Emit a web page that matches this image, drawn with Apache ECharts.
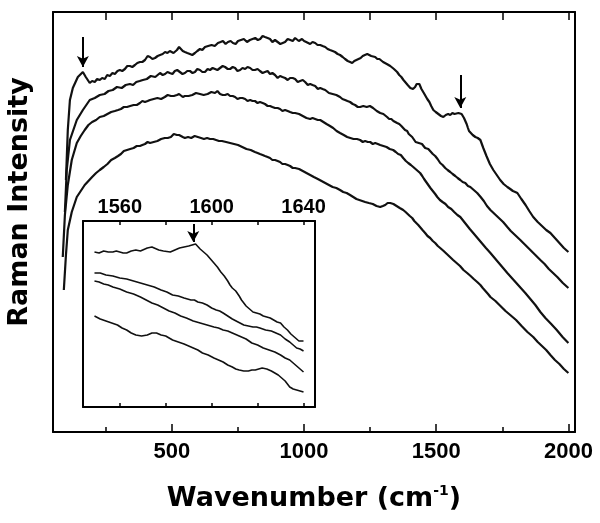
<!DOCTYPE html>
<html><head><meta charset="utf-8">
<script src="https://cdn.jsdelivr.net/npm/echarts@6/dist/echarts.min.js"></script>
<style>html,body{margin:0;padding:0;background:#fff}#c{width:600px;height:523px}</style>
</head><body><div id="c"></div>
<script>
// Main spectra: [wavenumber (cm-1), intensity (a.u.)]
const curve1 = [[99,252],[106,302],[114,332],[125,344],[144,355],[163,360],[174,355],[189,349],[198,351],[208,350],[217,353],[227,352],[236,354],[246,353],[255,357],[265,356],[275,359],[284,358],[294,361],[303,362],[312,361],[322,363],[331,366],[341,366],[350,365],[360,367],[369,369],[379,370],[388,370],[398,372],[408,376],[417,375],[426,373],[436,374],[446,376],[455,377],[465,378],[474,380],[483,379],[492,381],[499,382],[506,379],[512,380],[519,382],[527,385],[534,383],[541,381],[549,380],[558,379],[568,378],[577,377],[587,379],[596,381],[606,383],[615,382],[625,385],[637,386],[650,387],[662,386],[674,389],[684,390],[693,391],[703,388],[712,390],[722,391],[731,389],[741,388],[750,391],[761,392],[772,393],[784,390],[795,392],[805,393],[815,394],[825,392],[834,393],[843,396],[852,395],[862,394],[871,393],[880,390],[890,392],[900,390],[910,388],[919,389],[928,390],[938,393],[948,392],[957,391],[966,394],[973,393],[980,391],[986,392],[992,393],[1000,391],[1008,390],[1015,389],[1023,388],[1032,390],[1042,389],[1051,387],[1061,387],[1070,386],[1080,385],[1089,383],[1098,382],[1108,381],[1117,380],[1127,378],[1136,377],[1146,375],[1155,373],[1165,371],[1174,370],[1182,369],[1190,371],[1198,372],[1205,372],[1214,374],[1222,376],[1230,377],[1239,378],[1246,377],[1254,376],[1261,376],[1269,375],[1277,373],[1285,373],[1292,371],[1299,370],[1306,369],[1313,368],[1320,366],[1326,366],[1333,364],[1340,363],[1346,361],[1352,360],[1360,357],[1368,355],[1376,352],[1383,350],[1392,347],[1402,344],[1407,343],[1412,343],[1416,344],[1420,345],[1426,348],[1432,349],[1436,348],[1439,347],[1444,343],[1448,341],[1453,339],[1458,337],[1466,333],[1474,330],[1481,326],[1489,322],[1498,320],[1508,318],[1518,316],[1527,315],[1536,317],[1545,318],[1553,317],[1561,319],[1569,318],[1576,320],[1584,319],[1591,320],[1596,318],[1600,316],[1605,314],[1610,312],[1615,308],[1620,304],[1624,301],[1629,299],[1638,297],[1648,295],[1657,294],[1667,292],[1678,284],[1690,276],[1703,268],[1716,262],[1729,257],[1742,252],[1755,248],[1769,245],[1780,243],[1790,241],[1799,240],[1807,239],[1822,233],[1838,227],[1852,221],[1867,215],[1884,210],[1900,206],[1916,202],[1932,199],[1949,194],[1966,189],[1983,184],[2000,180]];
const curve2 = [[95,220],[102,262],[114,292],[140,312],[163,322],[189,332],[208,334],[227,337],[245,338],[260,341],[276,342],[292,345],[310,344],[325,347],[341,348],[353,347],[365,350],[378,351],[390,352],[405,353],[420,356],[437,355],[455,359],[465,357],[474,358],[483,360],[492,359],[502,358],[511,361],[520,362],[530,360],[540,358],[549,359],[558,361],[568,361],[578,359],[587,360],[596,363],[606,362],[615,360],[625,360],[635,363],[644,362],[654,364],[663,363],[672,362],[682,364],[692,366],[701,365],[711,363],[720,363],[730,365],[739,364],[748,361],[758,362],[767,364],[777,363],[786,365],[796,364],[805,362],[814,362],[824,363],[833,361],[843,359],[852,360],[862,361],[871,358],[880,359],[890,357],[900,354],[909,356],[918,355],[928,354],[938,352],[947,354],[957,354],[966,353],[976,350],[985,351],[995,352],[1004,350],[1014,347],[1023,348],[1032,347],[1042,346],[1052,343],[1061,344],[1070,343],[1080,342],[1094,339],[1108,338],[1122,337],[1136,335],[1145,333],[1155,332],[1164,331],[1174,330],[1184,328],[1193,327],[1203,325],[1212,325],[1224,326],[1237,325],[1249,326],[1261,324],[1275,321],[1288,319],[1300,318],[1314,315],[1322,313],[1330,313],[1338,311],[1345,311],[1352,309],[1360,308],[1368,306],[1375,305],[1382,302],[1390,301],[1396,298],[1402,298],[1409,295],[1415,294],[1422,290],[1428,290],[1434,289],[1440,288],[1446,288],[1451,287],[1458,284],[1464,285],[1470,283],[1477,282],[1487,278],[1496,276],[1505,273],[1515,269],[1524,267],[1534,264],[1543,262],[1553,260],[1562,258],[1572,256],[1581,254],[1591,252],[1600,250],[1610,249],[1620,246],[1629,245],[1636,243],[1642,242],[1648,240],[1655,239],[1668,235],[1680,231],[1692,226],[1705,222],[1721,218],[1737,214],[1753,210],[1769,205],[1782,201],[1794,198],[1806,195],[1818,192],[1837,187],[1856,182],[1875,177],[1894,172],[1910,168],[1926,163],[1942,159],[1958,155],[1979,149],[2000,144]];
const curve3 = [[87,175],[95,217],[106,247],[121,272],[140,289],[155,296],[170,302],[184,307],[198,310],[213,312],[227,315],[242,316],[256,318],[270,320],[284,321],[296,322],[307,323],[318,325],[330,325],[342,326],[355,327],[367,327],[379,329],[388,331],[398,330],[408,331],[417,332],[431,333],[445,334],[459,333],[473,335],[484,337],[496,336],[507,336],[519,337],[527,338],[534,336],[541,335],[549,336],[563,336],[577,337],[591,339],[606,338],[620,337],[635,338],[649,340],[663,339],[672,341],[682,338],[692,337],[701,337],[711,338],[720,336],[730,336],[739,335],[748,333],[758,334],[767,334],[777,333],[786,331],[796,332],[805,331],[814,331],[824,329],[833,330],[843,329],[852,328],[862,326],[871,326],[880,325],[890,324],[900,324],[909,323],[918,321],[928,322],[938,321],[947,320],[957,319],[966,319],[981,318],[995,316],[1009,314],[1023,313],[1032,314],[1042,313],[1052,312],[1061,312],[1073,310],[1085,308],[1098,306],[1110,304],[1123,301],[1136,299],[1150,297],[1163,295],[1175,294],[1187,293],[1200,293],[1212,292],[1222,290],[1231,291],[1241,290],[1250,290],[1260,288],[1269,289],[1279,288],[1288,287],[1300,286],[1312,285],[1324,283],[1337,282],[1347,280],[1356,278],[1366,277],[1375,274],[1385,271],[1394,269],[1404,267],[1413,265],[1420,263],[1426,262],[1432,261],[1439,259],[1447,256],[1454,253],[1462,250],[1470,247],[1478,244],[1487,241],[1496,238],[1504,235],[1514,232],[1524,230],[1535,228],[1545,225],[1557,223],[1568,220],[1580,217],[1591,215],[1603,211],[1615,207],[1627,203],[1640,199],[1656,194],[1672,189],[1688,184],[1705,179],[1721,174],[1737,169],[1753,164],[1769,159],[1786,154],[1803,149],[1820,144],[1837,139],[1856,133],[1875,127],[1894,120],[1913,114],[1935,108],[1956,102],[1978,95],[2000,89]];
const curve4 = [[91,142],[99,177],[106,202],[121,220],[140,235],[155,241],[170,247],[184,251],[198,255],[213,259],[227,262],[242,265],[256,268],[270,272],[284,274],[296,276],[307,278],[318,281],[330,282],[342,283],[355,284],[367,286],[379,286],[388,287],[398,288],[408,290],[417,289],[431,290],[445,291],[459,293],[473,294],[484,294],[496,295],[507,298],[519,297],[527,297],[534,296],[541,295],[549,294],[561,295],[573,294],[586,296],[598,295],[610,294],[621,293],[633,294],[644,293],[656,293],[667,292],[678,291],[689,291],[705,290],[720,289],[735,288],[750,287],[766,285],[782,283],[798,282],[814,280],[824,279],[833,278],[843,277],[852,276],[862,275],[871,274],[880,272],[890,272],[900,271],[909,270],[918,268],[928,268],[938,267],[947,266],[957,264],[966,264],[981,263],[995,261],[1009,259],[1023,257],[1037,255],[1052,253],[1066,251],[1080,249],[1094,247],[1108,245],[1122,244],[1136,242],[1148,240],[1161,239],[1174,237],[1186,235],[1198,233],[1209,232],[1220,231],[1231,230],[1245,229],[1260,228],[1274,226],[1288,225],[1298,226],[1307,227],[1316,229],[1326,229],[1338,228],[1350,226],[1362,224],[1375,222],[1384,220],[1392,218],[1400,216],[1409,214],[1417,211],[1424,209],[1432,207],[1439,205],[1448,202],[1458,199],[1467,196],[1477,194],[1487,191],[1496,189],[1506,186],[1515,184],[1528,181],[1540,178],[1552,175],[1564,172],[1577,169],[1590,166],[1603,162],[1617,159],[1630,156],[1642,153],[1655,150],[1667,147],[1676,144],[1686,141],[1696,138],[1705,135],[1724,131],[1743,126],[1762,121],[1780,117],[1802,112],[1823,106],[1845,100],[1867,95],[1884,90],[1900,86],[1916,82],[1932,77],[1949,72],[1966,68],[1983,63],[2000,59]];

// Inset spectra (about 1545-1645 cm-1)
const insetA = [[1549,155],[1551,154],[1553,156],[1555,155],[1557,155],[1558.5,156],[1560,155],[1561.5,154],[1563,154],[1565,156],[1567,157],[1569,156],[1572,159],[1574,160],[1577,157],[1579,156],[1582,155],[1584,157],[1586,159],[1588,160],[1590,161],[1593,163],[1595,158],[1598,152],[1599.5,148],[1601,144],[1602.5,140],[1604,135],[1605.5,131],[1607,126],[1608,122],[1609,119],[1610.5,116],[1612,111],[1613,107],[1614,104],[1615,101],[1616,99],[1617,97],[1618,95],[1619.5,94],[1621,93],[1622.5,91],[1624,90],[1625.5,89],[1627,87],[1628.5,85],[1630,84],[1631.5,80],[1633,77],[1634.5,73],[1636,70],[1638,66],[1640,66]];
const insetB = [[1549,134],[1551.5,134],[1554,132],[1557,131],[1560,129],[1563,128],[1566,126],[1569,124],[1572,122],[1575,120],[1578,117],[1580.5,115],[1583,112],[1585.5,111],[1588,109],[1589.5,108],[1591,107],[1592.5,107],[1594,105],[1596,104],[1598,102],[1600,99],[1602,97],[1603.5,96],[1605,94],[1607,91],[1609,88],[1611.5,85],[1614,82],[1616,81],[1618,80],[1619.5,80],[1621,79],[1623.5,77],[1626,76],[1628,74],[1630,72],[1632,68],[1634,65],[1635.5,62],[1637,59],[1638.5,58],[1640,56]];
const insetC = [[1549,126],[1551,125],[1553,123],[1555,122],[1557,120],[1560,118],[1563,115],[1566,113],[1569,110],[1571.5,107],[1574,104],[1576.5,102],[1579,99],[1581.5,96],[1584,94],[1586.5,91],[1589,89],[1592,86],[1595,84],[1598,82],[1601,80],[1603,79],[1605,77],[1607,76],[1609,74],[1612,71],[1615,68],[1617.5,64],[1620,62],[1622.5,59],[1625,57],[1627.5,55],[1630,52],[1632,49],[1634,47],[1635.5,44],[1637,41],[1638.5,38],[1640,35]];
const insetD = [[1549,91],[1551.5,88],[1554,86],[1556.5,84],[1559,82],[1561,79],[1563,77],[1565,74],[1567,72],[1569.5,71],[1572,72],[1574,74],[1576,74],[1578,72],[1580,71],[1581.5,69],[1583,67],[1585.5,65],[1588,63],[1590,61],[1592,59],[1594,57],[1596,54],[1598.5,52],[1601,49],[1603,47],[1605,45],[1607,42],[1609,40],[1610.5,38],[1612,37],[1614,36],[1616,36],[1617.5,37],[1619,37],[1620.5,38],[1622,39],[1624,38],[1626,36],[1627.5,34],[1629,32],[1630.5,29],[1632,26],[1633,23],[1634,20],[1635.5,18],[1637,17],[1638.5,16],[1640,15]];

// Arrow marks [x, yStart, yEnd]
const mainArrows = [[163,395,365],[1591,357,324]];
const insetArrows = [[1592,183,165]];

const mainTicks = [500,1000,1500,2000];
const mainMinorTicks = [250,750,1250,1750];
const mainTopTicks = [250,500,750,1000,1250,1500,1750,2000];
const insetTicks = [1560,1580,1600,1620,1640];
const insetLabels = [1560,1600,1640];

const chart = echarts.init(document.getElementById('c'), null, {renderer:'canvas'});
const K = '#000';
const plain = v => String(v);
const lblFont = {color:K, fontSize:22, fontWeight:'bold', fontFamily:'Liberation Sans, Arial, sans-serif', formatter:plain};
function line(data, xi, yi, w, arrows){
  const s = {type:'line', data:data, xAxisIndex:xi, yAxisIndex:yi, showSymbol:false, symbol:'none',
    lineStyle:{color:'#111', width:w}, silent:true, animation:false, z:3};
  if(arrows){
    s.markLine = {silent:true, animation:false, symbol:['none','arrow'], symbolSize:[9,11],
      label:{show:false}, lineStyle:{color:K, width:2, type:'solid'},
      data: arrows.map(a=>[{coord:[a[0],a[1]]},{coord:[a[0],a[2]]}])};
  }
  return s;
}
const noLbl = {show:false};
chart.setOption({
  animation:false,
  backgroundColor:'#fff',
  grid:[
    {left:53, top:12, right:25, bottom:91, show:false},
    {left:83, top:221, width:232, height:186, show:true, backgroundColor:'#fff', borderWidth:0, z:5}
  ],
  xAxis:[
    {gridIndex:0, type:'value', min:50, max:2025, position:'bottom',
     axisLine:{onZero:false, lineStyle:{color:K, width:2}},
     axisTick:{inside:true, length:8, customValues:mainTicks, lineStyle:{color:K, width:1.5}},
     axisLabel:Object.assign({customValues:mainTicks, margin:9}, lblFont),
     splitLine:{show:false},
     name:'{a|Wavenumber (cm}{s|-1}{a|)}', nameLocation:'middle', nameGap:52,
     nameTextStyle:{rich:{
       a:{fontSize:27, fontWeight:'bold', fontFamily:'DejaVu Sans', color:K, lineHeight:30},
       s:{fontSize:14, fontWeight:'bold', fontFamily:'DejaVu Sans', color:K, lineHeight:30, verticalAlign:'top', padding:[0,0,14,0]}
     }}},
    {gridIndex:0, type:'value', min:50, max:2025, position:'bottom',
     axisLine:{show:false, onZero:false},
     axisTick:{inside:true, length:5, customValues:mainMinorTicks, lineStyle:{color:K, width:1.5}},
     axisLabel:noLbl, splitLine:{show:false}},
    {gridIndex:0, type:'value', min:50, max:2025, position:'top',
     axisLine:{onZero:false, lineStyle:{color:K, width:2}},
     axisTick:{inside:true, length:8, customValues:mainTopTicks, lineStyle:{color:K, width:1.5}},
     axisLabel:noLbl, splitLine:{show:false}},
    {gridIndex:1, type:'value', min:1544, max:1645, position:'bottom', z:6,
     axisLine:{onZero:false, lineStyle:{color:K, width:2}},
     axisTick:{inside:true, length:4, customValues:insetTicks, lineStyle:{color:K, width:1.5}},
     axisLabel:noLbl, splitLine:{show:false}},
    {gridIndex:1, type:'value', min:1544, max:1645, position:'top', z:6,
     axisLine:{onZero:false, lineStyle:{color:K, width:2}},
     axisTick:{inside:true, length:4, customValues:insetTicks, lineStyle:{color:K, width:1.5}},
     axisLabel:Object.assign({customValues:insetLabels, margin:4}, lblFont, {fontSize:20}),
     splitLine:{show:false}}
  ],
  yAxis:[
    {gridIndex:0, type:'value', min:0, max:420, position:'left',
     axisLine:{show:true, onZero:false, lineStyle:{color:K, width:2}}, axisTick:{show:false}, axisLabel:noLbl, splitLine:{show:false}},
    {gridIndex:0, type:'value', min:0, max:420, position:'right',
     axisLine:{show:true, onZero:false, lineStyle:{color:K, width:2}}, axisTick:{show:false}, axisLabel:noLbl, splitLine:{show:false}},
    {gridIndex:1, type:'value', min:0, max:186, position:'left', z:6,
     axisLine:{show:true, onZero:false, lineStyle:{color:K, width:2}}, axisTick:{show:false}, axisLabel:noLbl, splitLine:{show:false}},
    {gridIndex:1, type:'value', min:0, max:186, position:'right', z:6,
     axisLine:{show:true, onZero:false, lineStyle:{color:K, width:2}}, axisTick:{show:false}, axisLabel:noLbl, splitLine:{show:false}}
  ],
  graphic:[{type:'text', x:20, y:202, rotation:Math.PI/2, z:10,
    style:{text:'Raman Intensity', fill:K, font:'bold 27px "DejaVu Sans"', textAlign:'center', textVerticalAlign:'middle'}}],
  series:[
    line(curve1,0,0,2.2,mainArrows), line(curve2,0,0,2.2), line(curve3,0,0,2.2), line(curve4,0,0,2.2),
    Object.assign(line(insetA,3,2,1.6,insetArrows),{z:7}),
    Object.assign(line(insetB,3,2,1.6),{z:7}),
    Object.assign(line(insetC,3,2,1.6),{z:7}),
    Object.assign(line(insetD,3,2,1.6),{z:7})
  ]
});
</script></body></html>
